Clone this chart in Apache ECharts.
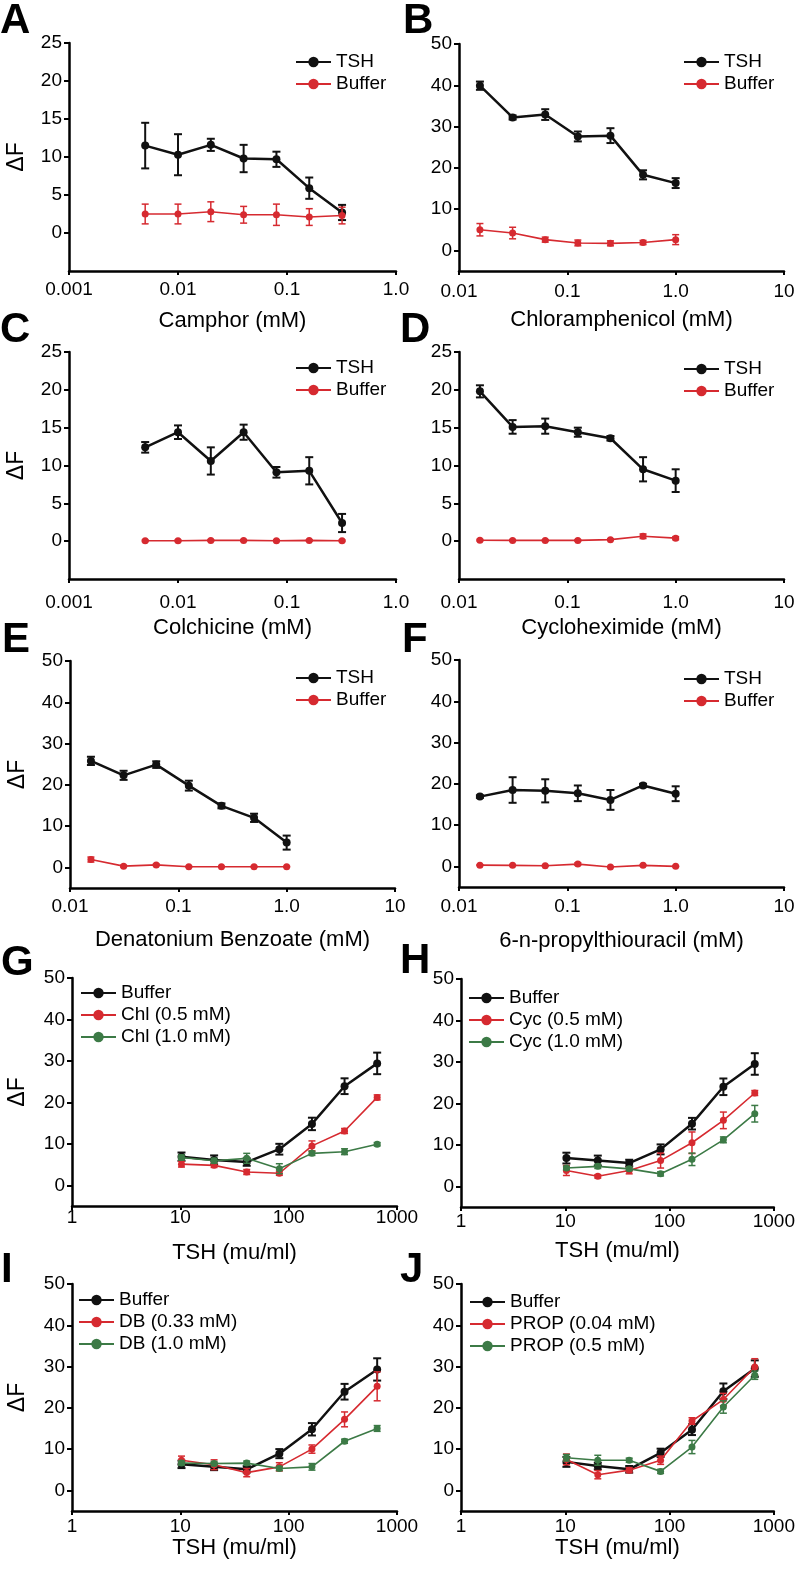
<!DOCTYPE html>
<html>
<head>
<meta charset="utf-8">
<script src="https://cdn.jsdelivr.net/npm/echarts@6/dist/echarts.min.js"></script>
<style>
html,body{margin:0;padding:0;background:#fff;}
#c{width:798px;height:1570px;}
</style>
</head>
<body>
<div id="c"></div>
<script>
// ---------- data ----------
const concSmall = [0.005, 0.01, 0.02, 0.04, 0.08, 0.16, 0.32];          // A, C (mM)
const concLarge = [0.0156, 0.03125, 0.0625, 0.125, 0.25, 0.5, 1.0];     // B, D, E, F (mM)
const tshDose = [10.25, 20.5, 41, 82, 164, 328, 656];                   // G-J (mu/ml)

const xLabelsSmall = ['0.001', '0.01', '0.1', '1.0'];
const xLabelsLarge = ['0.01', '0.1', '1.0', '10'];
const xLabelsTsh = ['1', '10', '100', '1000'];
const yTicks25 = [0, 5, 10, 15, 20, 25];
const yTicks50 = [0, 10, 20, 30, 40, 50];

// A Camphor
const campTSH = [11.5, 10.3, 11.6, 9.8, 9.7, 5.9, 2.7];
const campTSHErr = [3.0, 2.7, 0.8, 1.8, 1.0, 1.4, 1.0];
const campBuf = [2.5, 2.5, 2.8, 2.4, 2.4, 2.1, 2.3];
const campBufErr = [1.3, 1.3, 1.3, 1.1, 1.4, 1.1, 1.1];
// B Chloramphenicol
const chlTSH = [39.9, 32.2, 32.9, 27.6, 27.8, 18.3, 16.3];
const chlTSHErr = [1.0, 0.5, 1.3, 1.2, 1.8, 1.1, 1.2];
const chlBuf = [5.0, 4.2, 2.6, 1.8, 1.7, 1.9, 2.6];
const chlBufErr = [1.5, 1.4, 0.6, 0.7, 0.6, 0.5, 1.2];
// C Colchicine
const colTSH = [12.4, 14.4, 10.6, 14.4, 9.1, 9.3, 2.4];
const colTSHErr = [0.7, 0.9, 1.8, 1.0, 0.7, 1.8, 1.2];
const colBuf = [0.05, 0.05, 0.1, 0.1, 0.05, 0.1, 0.05];
const colBufErr = [0.1, 0.1, 0.1, 0.1, 0.1, 0.1, 0.1];
// D Cycloheximide
const cycTSH = [19.8, 15.1, 15.2, 14.4, 13.6, 9.5, 8.0];
const cycTSHErr = [0.8, 0.9, 1.0, 0.6, 0.3, 1.6, 1.5];
const cycBuf = [0.13, 0.1, 0.1, 0.1, 0.2, 0.65, 0.4];
const cycBufErr = [0.1, 0.1, 0.1, 0.1, 0.1, 0.3, 0.2];
// E Denatonium Benzoate
const denTSH = [25.8, 22.3, 24.9, 19.8, 14.9, 12.0, 6.0];
const denTSHErr = [1.0, 1.1, 0.8, 1.2, 0.6, 1.0, 1.7];
const denBuf = [1.9, 0.3, 0.6, 0.15, 0.15, 0.15, 0.15];
const denBufErr = [0.6, 0.2, 0.2, 0.1, 0.1, 0.1, 0.1];
// F 6-n-propylthiouracil
const propTSH = [16.9, 18.5, 18.3, 17.7, 16.1, 19.6, 17.6];
const propTSHErr = [0.3, 3.1, 2.8, 1.9, 2.4, 0.4, 1.8];
const propBuf = [0.3, 0.25, 0.15, 0.55, -0.15, 0.25, 0.0];
const propBufErr = [0.1, 0.1, 0.1, 0.3, 0.1, 0.1, 0.1];
// G Buffer / Chl
const gBuf = [6.9, 6.1, 5.6, 8.7, 14.8, 23.9, 29.4];
const gBufErr = [1.0, 1.1, 0.9, 1.3, 1.5, 1.9, 2.6];
const gChl05 = [5.1, 4.8, 3.2, 2.9, 9.5, 13.1, 21.2];
const gChl05Err = [0.7, 0.5, 0.6, 0.5, 1.2, 0.6, 0.6];
const gChl10 = [6.7, 5.9, 6.5, 4.0, 7.7, 8.1, 9.9];
const gChl10Err = [0.6, 0.6, 1.2, 1.2, 0.5, 0.7, 0.4];
// H Buffer / Cyc
const hBuf = [6.8, 6.2, 5.6, 8.9, 15.1, 24.0, 29.5];
const hBufErr = [1.3, 1.2, 0.8, 1.2, 1.4, 2.0, 2.6];
const hCyc05 = [3.8, 2.4, 3.8, 6.2, 10.5, 15.9, 22.5];
const hCyc05Err = [1.2, 0.4, 0.8, 1.8, 2.6, 2.0, 0.6];
const hCyc10 = [4.4, 4.8, 4.2, 3.0, 6.5, 11.2, 17.5];
const hCyc10Err = [0.4, 0.5, 0.4, 0.5, 1.5, 0.7, 2.0];
// I Buffer / DB
const iBuf = [6.3, 5.7, 5.1, 8.9, 14.8, 23.9, 29.3];
const iBufErr = [0.9, 0.8, 0.8, 1.1, 1.5, 1.9, 2.7];
const iDb033 = [7.3, 6.2, 4.3, 5.7, 10.0, 17.2, 25.2];
const iDb033Err = [1.0, 1.2, 1.0, 1.0, 1.0, 1.8, 3.5];
const iDb10 = [6.6, 6.5, 6.6, 5.3, 5.7, 11.9, 15.0];
const iDb10Err = [0.5, 0.5, 0.5, 0.5, 0.8, 0.5, 0.7];
// J Buffer / PROP
const jBuf = [6.9, 5.9, 5.1, 9.1, 14.7, 24.0, 29.5];
const jBufErr = [1.2, 0.8, 0.8, 1.0, 1.3, 1.9, 2.0];
const jProp004 = [7.5, 3.8, 4.9, 7.3, 16.8, 22.0, 29.9];
const jProp004Err = [1.3, 1.0, 0.6, 1.0, 0.8, 1.5, 2.0];
const jProp05 = [7.9, 7.3, 7.3, 4.6, 10.5, 20.2, 27.9];
const jProp05Err = [0.8, 1.2, 0.5, 0.5, 1.6, 1.5, 1.0];

// ---------- styles / layout ----------
const BLACK = '#111111', RED = '#d62a30', GREEN = '#3c7a46';
const FONT = '"Liberation Sans", Arial, Helvetica, sans-serif';

const panels = [
  {id:'A', grid:[69,43,327,228], xr:[0.001,1], xl:xLabelsSmall, yMax:25, yt:yTicks25, xName:'Camphor (mM)', yName:true, lg:[295,52], lm:9, ng:39,
   s:[['TSH',concSmall,campTSH,campTSHErr,BLACK],['Buffer',concSmall,campBuf,campBufErr,RED]]},
  {id:'B', grid:[459,44,325,227], xr:[0.01,10], xl:xLabelsLarge, yMax:50, yt:yTicks50, xName:'Chloramphenicol (mM)', yName:false, lg:[683,52], lm:11, ng:38,
   s:[['TSH',concLarge,chlTSH,chlTSHErr,BLACK],['Buffer',concLarge,chlBuf,chlBufErr,RED]]},
  {id:'C', grid:[69,352,327,227], xr:[0.001,1], xl:xLabelsSmall, yMax:25, yt:yTicks25, xName:'Colchicine (mM)', yName:true, lg:[295,358], lm:14, ng:38,
   s:[['TSH',concSmall,colTSH,colTSHErr,BLACK],['Buffer',concSmall,colBuf,colBufErr,RED]]},
  {id:'D', grid:[459,352,325,227], xr:[0.01,10], xl:xLabelsLarge, yMax:25, yt:yTicks25, xName:'Cycloheximide (mM)', yName:false, lg:[683,359], lm:14, ng:38,
   s:[['TSH',concLarge,cycTSH,cycTSHErr,BLACK],['Buffer',concLarge,cycBuf,cycBufErr,RED]]},
  {id:'E', grid:[70,661,325,227], xr:[0.01,10], xl:xLabelsLarge, yMax:50, yt:yTicks50, xName:'Denatonium Benzoate (mM)', yName:true, lg:[295,668], lm:9, ng:41,
   s:[['TSH',concLarge,denTSH,denTSHErr,BLACK],['Buffer',concLarge,denBuf,denBufErr,RED]]},
  {id:'F', grid:[459,660,325,227], xr:[0.01,10], xl:xLabelsLarge, yMax:50, yt:yTicks50, xName:'6-n-propylthiouracil (mM)', yName:false, lg:[683,669], lm:10, ng:43,
   s:[['TSH',concLarge,propTSH,propTSHErr,BLACK],['Buffer',concLarge,propBuf,propBufErr,RED]]},
  {id:'G', grid:[72,978,325,228], xr:[1,1000], xl:xLabelsTsh, yMax:50, yt:yTicks50, xName:'TSH (mu/ml)', yName:true, lg:[80,983], lm:2, ng:36,
   s:[['Buffer',tshDose,gBuf,gBufErr,BLACK],['Chl (0.5 mM)',tshDose,gChl05,gChl05Err,RED],['Chl (1.0 mM)',tshDose,gChl10,gChl10Err,GREEN]]},
  {id:'H', grid:[461,979,323,228], xr:[1,1000], xl:xLabelsTsh, yMax:50, yt:yTicks50, xName:'TSH (mu/ml)', yName:false, lg:[468,988], lm:5, ng:33,
   s:[['Buffer',tshDose,hBuf,hBufErr,BLACK],['Cyc (0.5 mM)',tshDose,hCyc05,hCyc05Err,RED],['Cyc (1.0 mM)',tshDose,hCyc10,hCyc10Err,GREEN]]},
  {id:'I', grid:[72,1284,325,227], xr:[1,1000], xl:xLabelsTsh, yMax:50, yt:yTicks50, xName:'TSH (mu/ml)', yName:true, lg:[78,1290], lm:6, ng:26,
   s:[['Buffer',tshDose,iBuf,iBufErr,BLACK],['DB (0.33 mM)',tshDose,iDb033,iDb033Err,RED],['DB (1.0 mM)',tshDose,iDb10,iDb10Err,GREEN]]},
  {id:'J', grid:[461,1284,324,227], xr:[1,1000], xl:xLabelsTsh, yMax:50, yt:yTicks50, xName:'TSH (mu/ml)', yName:false, lg:[469,1292], lm:6, ng:24,
   s:[['Buffer',tshDose,jBuf,jBufErr,BLACK],['PROP (0.04 mM)',tshDose,jProp004,jProp004Err,RED],['PROP (0.5 mM)',tshDose,jProp05,jProp05Err,GREEN]]}
];

const letterPos = {A:[0,5],B:[403,5],C:[0,314],D:[400,314],E:[2,624],F:[402,624],G:[1,947],H:[400,945],I:[1,1254],J:[400,1254]};

function errRender(color, lw, cap) {
  return function (params, api) {
    const x = api.value(0), y = api.value(1), e = api.value(2);
    const t = api.coord([x, y + e]), b = api.coord([x, y - e]);
    const hw = cap / 2;
    const st = {stroke: color, lineWidth: lw};
    return {type: 'group', children: [
      {type: 'line', shape: {x1: t[0], y1: t[1], x2: b[0], y2: b[1]}, style: st},
      {type: 'line', shape: {x1: t[0]-hw, y1: t[1], x2: t[0]+hw, y2: t[1]}, style: st},
      {type: 'line', shape: {x1: b[0]-hw, y1: b[1], x2: b[0]+hw, y2: b[1]}, style: st}
    ]};
  };
}

const option = {
  animation: false,
  backgroundColor: '#fff',
  textStyle: {fontFamily: FONT, color: '#000'},
  grid: [], xAxis: [], yAxis: [], series: [], legend: [], graphic: []
};

const axisLineStyle = {color: '#000', width: 2.5};

panels.forEach((p, i) => {
  option.grid.push({left: p.grid[0], top: p.grid[1], width: p.grid[2], height: p.grid[3], containLabel: false});
  const xl = p.xl, xmin = p.xr[0];
  option.xAxis.push({
    gridIndex: i, type: 'log', logBase: 10, min: p.xr[0], max: p.xr[1],
    axisLine: {show: true, onZero: false, lineStyle: axisLineStyle},
    axisTick: {show: true, inside: false, length: 4, lineStyle: {color: '#000', width: 2}},
    minorTick: {show: false}, splitLine: {show: false},
    axisLabel: {color: '#000', fontSize: 19, fontFamily: FONT, margin: p.lm, showMinLabel: true, showMaxLabel: true,
      formatter: v => xl[Math.round(Math.log10(v / xmin))] || ''},
    name: p.xName, nameLocation: 'middle', nameGap: p.ng,
    nameTextStyle: {color: '#000', fontSize: 22, fontFamily: FONT}
  });
  option.yAxis.push({
    gridIndex: i, type: 'value', min: -5, max: p.yMax, interval: 5,
    axisLine: {show: true, onZero: false, lineStyle: axisLineStyle},
    axisTick: {show: true, inside: false, length: 5, lineStyle: {color: '#000', width: 2}, customValues: p.yt},
    splitLine: {show: false},
    axisLabel: {color: '#000', fontSize: 19, fontFamily: FONT, margin: 7, customValues: p.yt},
    name: p.yName ? 'ΔF' : '', nameLocation: 'middle', nameRotate: 90, nameGap: (i >= 6 ? 43 : 41),
    nameTextStyle: {color: '#000', fontSize: 23, fontFamily: FONT}
  });
  const legendNames = [];
  p.s.forEach((s, k) => {
    const [nm, xs, ys, es, col] = s;
    const isBlack = col === BLACK;
    const full = p.id + ':' + nm;
    legendNames.push(full);
    option.series.push({
      type: 'custom', xAxisIndex: i, yAxisIndex: i, z: 2 + k * 2,
      renderItem: errRender(col, isBlack ? 2 : 1.5, isBlack ? 8 : 7),
      data: xs.map((x, j) => [x, ys[j], es[j]]),
      encode: {x: 0, y: 1}, silent: true, clip: false
    });
    option.series.push({
      name: full, type: 'line', xAxisIndex: i, yAxisIndex: i, z: 3 + k * 2,
      data: xs.map((x, j) => [x, ys[j]]),
      symbol: 'circle', symbolSize: isBlack ? 8 : 7,
      lineStyle: {color: col, width: isBlack ? 2.5 : 1.6},
      itemStyle: {color: col},
      emphasis: {disabled: true}
    });
  });
  option.legend.push({
    data: legendNames, orient: 'vertical', left: p.lg[0], top: p.lg[1],
    itemWidth: 35, itemHeight: 13, itemGap: 2, padding: 0, selectedMode: false,
    textStyle: {color: '#000', fontSize: 19, fontFamily: FONT, lineHeight: 20},
    formatter: n => n.slice(2)
  });
  const lp = letterPos[p.id];
  option.graphic.push({
    type: 'text', left: lp[0], top: lp[1] - 5,
    style: {text: p.id, font: 'bold 42px ' + FONT, fill: '#000'}
  });
});

const chart = echarts.init(document.getElementById('c'), null, {renderer: 'canvas', width: 798, height: 1570});
chart.setOption(option);
</script>
</body>
</html>
